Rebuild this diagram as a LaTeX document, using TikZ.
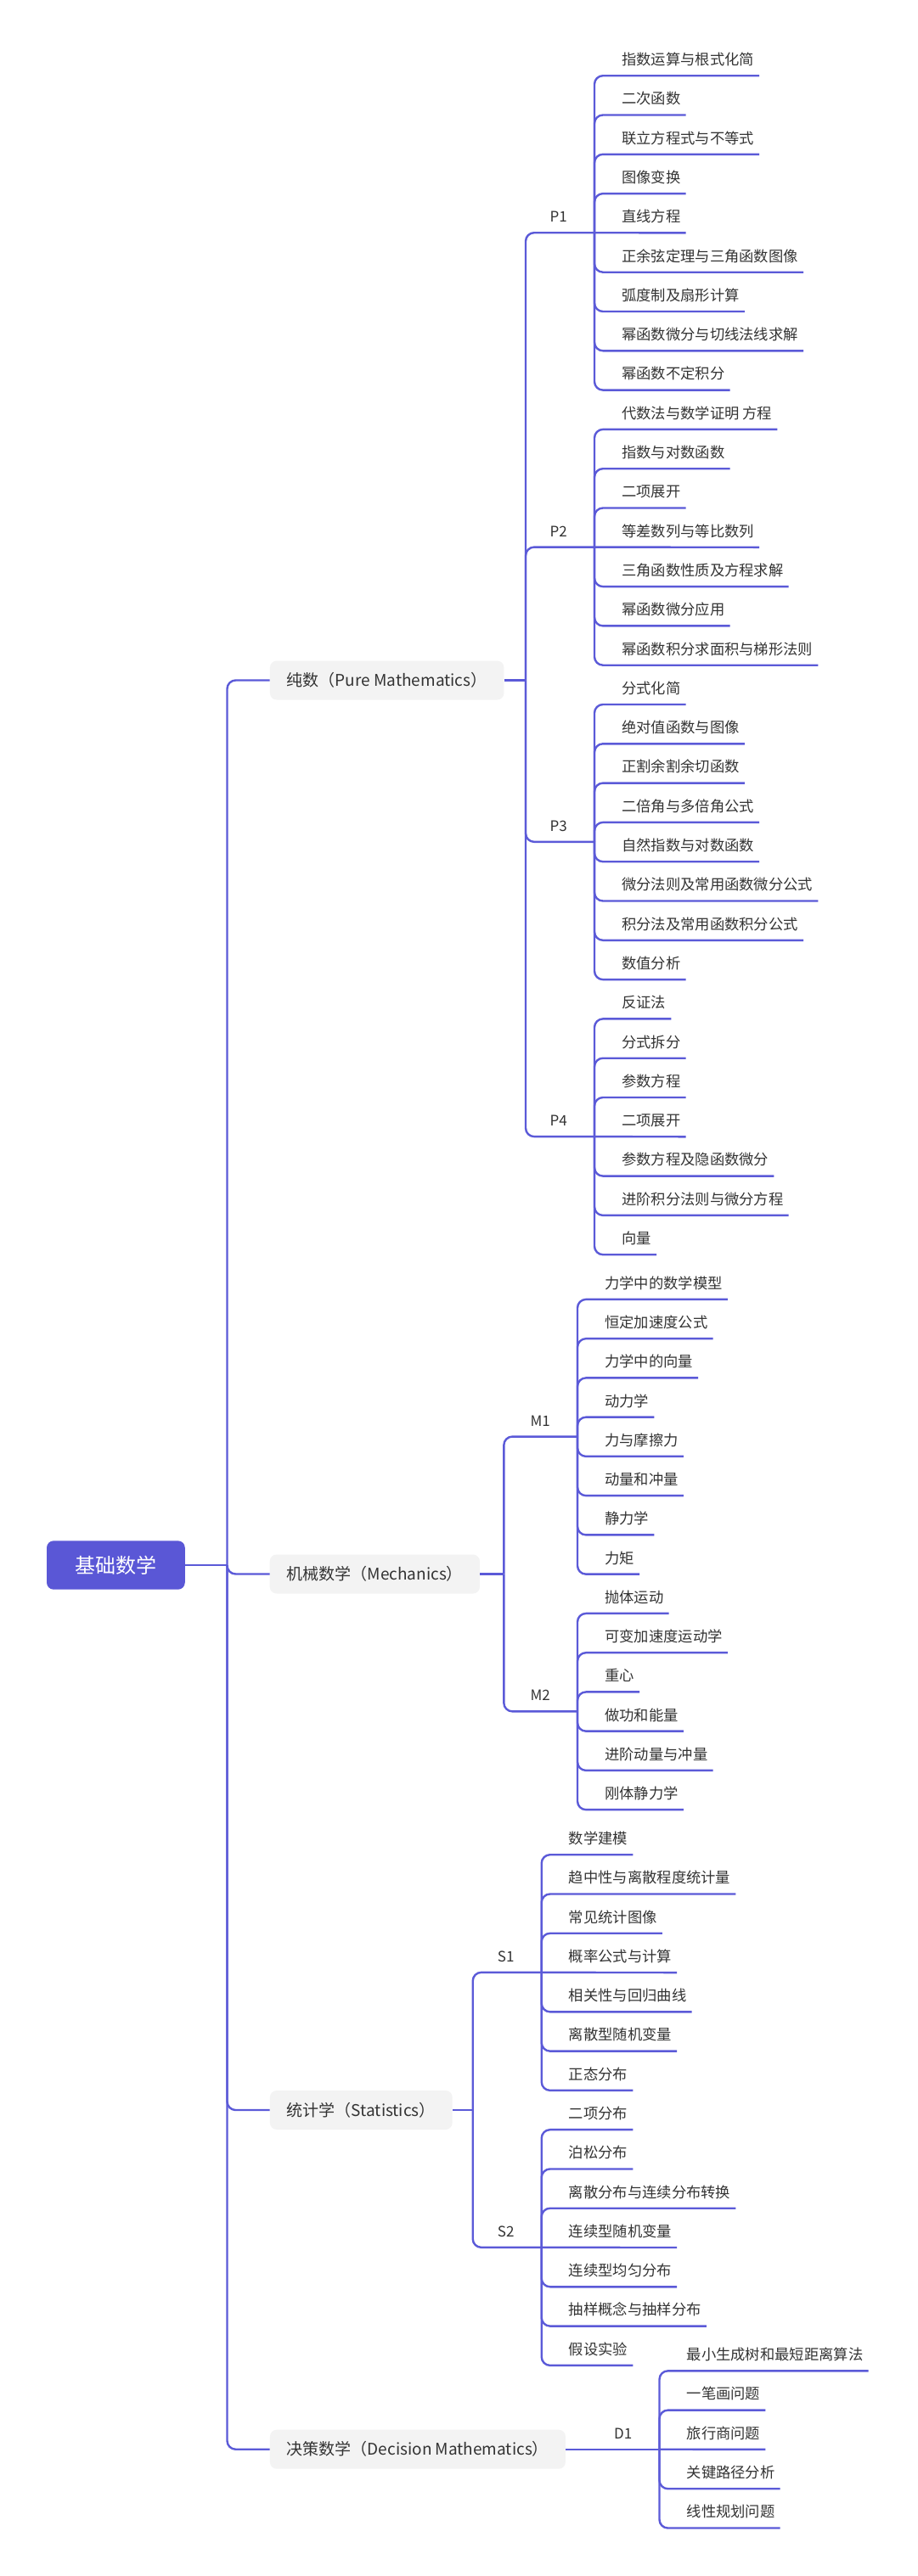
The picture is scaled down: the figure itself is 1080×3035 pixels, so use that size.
\documentclass[tikz,border=0pt]{standalone}
\usepackage{fontspec}
\setmainfont{Noto Sans CJK SC}
\definecolor{linec}{HTML}{5B5AD8}
\definecolor{rootc}{HTML}{5A57D6}
\definecolor{boxc}{HTML}{F3F3F3}
\definecolor{txtc}{HTML}{333333}
\newcommand{\mmLeaf}[5]{%
  \node[leaf] (#1) at ({#2+32},{#3-19}) {#5};
  \draw[conn] (#4) |- ([xshift=6pt]#1.south east);}
\newcommand{\mmLeafMid}[5]{%
  \node[leaf] (#1) at ({#2+32},{#3-19}) {#5};
  \draw[conn] (#4) -- ([xshift=6pt]#1.south east);}
\begin{document}
\begin{tikzpicture}[x=1pt,y=-1pt,
  conn/.style={draw=linec, line width=2.4pt, rounded corners=10pt},
  leaf/.style={anchor=west, inner sep=0pt, minimum height=38pt, text=txtc,
    font=\fontsize{17.3pt}{20pt}\selectfont, text height=15.2pt, text depth=2.1pt},
  lab/.style={anchor=east, inner sep=0pt, minimum height=38pt, text=txtc,
    font=\fontsize{17pt}{20pt}\selectfont, text height=15pt, text depth=2pt},
  lone/.style={anchor=west, fill=boxc, rounded corners=8pt, inner xsep=20pt, inner ysep=0pt,
    minimum height=46pt, text=txtc, font=\fontsize{19pt}{23pt}\selectfont,
    text height=16.7pt, text depth=2.3pt},
  rootn/.style={fill=rootc, rounded corners=8pt, inner sep=0pt, minimum width=162.7pt,
    minimum height=57.3pt, text=white, font=\fontsize{24pt}{28pt}\selectfont,
    text height=21.1pt, text depth=2.9pt}]
\path[use as bounding box, fill=white] (0,0) rectangle (1080,3035);

% root and trunk
\node[rootn] (root) at (136.4,1844) {基础数学};
\coordinate (trunkJ) at (267.5,1844);
\draw[conn] (root.east) -- (trunkJ);

\node[lone] (pure) at (317.7,801.5) {纯数（Pure Mathematics）};
\node[lone] (mech) at (317.5,1854.5) {机械数学（Mechanics）};
\node[lone] (stat) at (317.7,2486) {统计学（Statistics）};
\node[lone] (dec) at (317.7,2885.7) {决策数学（Decision Mathematics）};
\draw[conn] (trunkJ) |- (pure.west);
\draw[conn] (trunkJ) |- (mech.west);
\draw[conn] (trunkJ) |- (stat.west);
\draw[conn] (trunkJ) |- (dec.west);

% ---------- Pure ----------
\coordinate (pureJ) at (619,801.5);
\draw[conn] (pure.east) -- (pureJ);
\coordinate (P1j) at (700,274.2);
\coordinate (P2j) at (700,644.6);
\coordinate (P3j) at (700,991.85);
\coordinate (P4j) at (700,1339.1);
\foreach \j in {P1j,P2j,P3j,P4j} {\draw[conn] (pureJ) |- (\j);}
\node[lab] (P1) at (668,255.2) {P1};
\node[lab] (P2) at (668,625.6) {P2};
\node[lab] (P3) at (668,972.85) {P3};
\node[lab] (P4) at (668,1320.1) {P4};

\mmLeaf{a1}{700}{89.0}{P1j}{指数运算与根式化简}
\mmLeaf{a2}{700}{135.3}{P1j}{二次函数}
\mmLeaf{a3}{700}{181.6}{P1j}{联立方程式与不等式}
\mmLeaf{a4}{700}{227.9}{P1j}{图像变换}
\mmLeafMid{a5}{700}{274.2}{P1j}{直线方程}
\mmLeaf{a6}{700}{320.5}{P1j}{正余弦定理与三角函数图像}
\mmLeaf{a7}{700}{366.8}{P1j}{弧度制及扇形计算}
\mmLeaf{a8}{700}{413.1}{P1j}{幂函数微分与切线法线求解}
\mmLeaf{a9}{700}{459.4}{P1j}{幂函数不定积分}

\mmLeaf{b1}{700}{505.7}{P2j}{代数法与数学证明 方程}
\mmLeaf{b2}{700}{552.0}{P2j}{指数与对数函数}
\mmLeaf{b3}{700}{598.3}{P2j}{二项展开}
\mmLeafMid{b4}{700}{644.6}{P2j}{等差数列与等比数列}
\mmLeaf{b5}{700}{690.9}{P2j}{三角函数性质及方程求解}
\mmLeaf{b6}{700}{737.2}{P2j}{幂函数微分应用}
\mmLeaf{b7}{700}{783.5}{P2j}{幂函数积分求面积与梯形法则}

\mmLeaf{c1}{700}{829.8}{P3j}{分式化简}
\mmLeaf{c2}{700}{876.1}{P3j}{绝对值函数与图像}
\mmLeaf{c3}{700}{922.4}{P3j}{正割余割余切函数}
\mmLeaf{c4}{700}{968.7}{P3j}{二倍角与多倍角公式}
\mmLeaf{c5}{700}{1015.0}{P3j}{自然指数与对数函数}
\mmLeaf{c6}{700}{1061.3}{P3j}{微分法则及常用函数微分公式}
\mmLeaf{c7}{700}{1107.6}{P3j}{积分法及常用函数积分公式}
\mmLeaf{c8}{700}{1153.9}{P3j}{数值分析}

\mmLeaf{d1}{700}{1200.2}{P4j}{反证法}
\mmLeaf{d2}{700}{1246.5}{P4j}{分式拆分}
\mmLeaf{d3}{700}{1292.8}{P4j}{参数方程}
\mmLeafMid{d4}{700}{1339.1}{P4j}{二项展开}
\mmLeaf{d5}{700}{1385.4}{P4j}{参数方程及隐函数微分}
\mmLeaf{d6}{700}{1431.7}{P4j}{进阶积分法则与微分方程}
\mmLeaf{d7}{700}{1478.0}{P4j}{向量}

% ---------- Mechanics ----------
\coordinate (mechJ) at (593.3,1854.5);
\draw[conn] (mech.east) -- (mechJ);
\coordinate (M1j) at (680,1692.575);
\coordinate (M2j) at (680,2016.325);
\draw[conn] (mechJ) |- (M1j);
\draw[conn] (mechJ) |- (M2j);
\node[lab] (M1) at (648,1673.575) {M1};
\node[lab] (M2) at (648,1997.325) {M2};

\mmLeaf{e1}{680}{1530.7}{M1j}{力学中的数学模型}
\mmLeaf{e2}{680}{1576.95}{M1j}{恒定加速度公式}
\mmLeaf{e3}{680}{1623.2}{M1j}{力学中的向量}
\mmLeaf{e4}{680}{1669.45}{M1j}{动力学}
\mmLeaf{e5}{680}{1715.7}{M1j}{力与摩擦力}
\mmLeaf{e6}{680}{1761.95}{M1j}{动量和冲量}
\mmLeaf{e7}{680}{1808.2}{M1j}{静力学}
\mmLeaf{e8}{680}{1854.45}{M1j}{力矩}

\mmLeaf{f1}{680}{1900.7}{M2j}{抛体运动}
\mmLeaf{f2}{680}{1946.95}{M2j}{可变加速度运动学}
\mmLeaf{f3}{680}{1993.2}{M2j}{重心}
\mmLeaf{f4}{680}{2039.45}{M2j}{做功和能量}
\mmLeaf{f5}{680}{2085.7}{M2j}{进阶动量与冲量}
\mmLeaf{f6}{680}{2131.95}{M2j}{刚体静力学}

% ---------- Statistics ----------
\coordinate (statJ) at (556.7,2486);
\draw[conn] (stat.east) -- (statJ);
\coordinate (S1j) at (637.7,2323.84);
\coordinate (S2j) at (637.7,2647.8);
\draw[conn] (statJ) |- (S1j);
\draw[conn] (statJ) |- (S2j);
\node[lab] (S1) at (605.7,2304.84) {S1};
\node[lab] (S2) at (605.7,2628.8) {S2};

\mmLeaf{g1}{637.7}{2185.0}{S1j}{数学建模}
\mmLeaf{g2}{637.7}{2231.28}{S1j}{趋中性与离散程度统计量}
\mmLeaf{g3}{637.7}{2277.56}{S1j}{常见统计图像}
\mmLeafMid{g4}{637.7}{2323.84}{S1j}{概率公式与计算}
\mmLeaf{g5}{637.7}{2370.12}{S1j}{相关性与回归曲线}
\mmLeaf{g6}{637.7}{2416.4}{S1j}{离散型随机变量}
\mmLeaf{g7}{637.7}{2462.68}{S1j}{正态分布}

\mmLeaf{h1}{637.7}{2508.96}{S2j}{二项分布}
\mmLeaf{h2}{637.7}{2555.24}{S2j}{泊松分布}
\mmLeaf{h3}{637.7}{2601.52}{S2j}{离散分布与连续分布转换}
\mmLeafMid{h4}{637.7}{2647.8}{S2j}{连续型随机变量}
\mmLeaf{h5}{637.7}{2694.08}{S2j}{连续型均匀分布}
\mmLeaf{h6}{637.7}{2740.36}{S2j}{抽样概念与抽样分布}
\mmLeaf{h7}{637.7}{2786.64}{S2j}{假设实验}

% ---------- Decision ----------
\coordinate (D1j) at (776.5,2885.7);
\draw[conn] (dec.east) -- (D1j);
\node[lab] (D1) at (744.5,2866.7) {D1};

\mmLeaf{i1}{776.5}{2793.1}{D1j}{最小生成树和最短距离算法}
\mmLeaf{i2}{776.5}{2839.4}{D1j}{一笔画问题}
\mmLeafMid{i3}{776.5}{2885.7}{D1j}{旅行商问题}
\mmLeaf{i4}{776.5}{2932.0}{D1j}{关键路径分析}
\mmLeaf{i5}{776.5}{2978.3}{D1j}{线性规划问题}
\end{tikzpicture}
\end{document}
